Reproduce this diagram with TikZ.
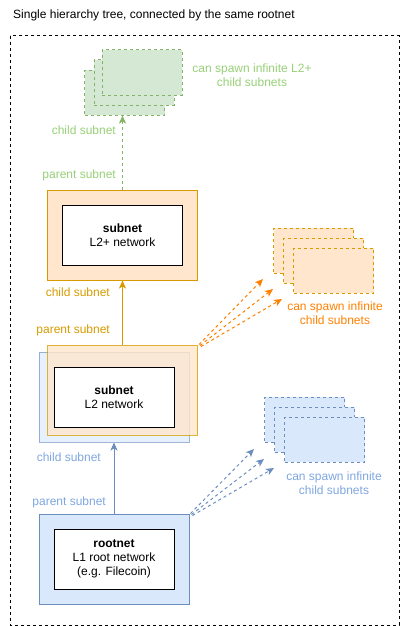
\documentclass[tikz,border=0pt]{standalone}
\usepackage{fontspec}
\setmainfont{Liberation Sans}
\usetikzlibrary{arrows.meta,positioning}
\definecolor{grnfill}{HTML}{D5E8D4}
\definecolor{grnline}{HTML}{82B366}
\definecolor{grntext}{HTML}{97D077}
\definecolor{orgfill}{HTML}{FFE6CC}
\definecolor{orgline}{HTML}{D79B00}
\definecolor{orgtext}{HTML}{FF8000}
\definecolor{blufill}{HTML}{DAE8FC}
\definecolor{bluline}{HTML}{6C8EBF}
\definecolor{blutext}{HTML}{7EA6E0}
\tikzset{
	netbox/.style={draw, line width=1pt, minimum width=150pt, minimum height=90pt, inner sep=0pt},
	corebox/.style={draw=black, fill=white, line width=1pt, minimum width=120pt, minimum height=60pt, inner sep=0pt, align=center, font=\fontsize{12}{14}\selectfont},
	ghostbox/.style={draw, line width=1pt, dash pattern=on 3pt off 3pt, minimum width=80pt, minimum height=45pt, inner sep=0pt},
	lbl/.style={inner sep=0pt, align=center, font=\fontsize{12}{14}\selectfont},
	linkarrow/.style={line width=1pt, -{Stealth[length=8pt,width=7pt,inset=2pt]}},
	spawnarrow/.style={linkarrow, dash pattern=on 3pt off 3pt}
}

\begin{document}
\begin{tikzpicture}[x=1pt,y=-1pt]
			%%%%% START %%%%%
			\useasboundingbox (0,0) rectangle (401,626);
			
			\node[lbl, anchor=west] (title) at (13,15) {Single hierarchy tree, connected by the same rootnet};
			\draw[line width=1pt, dash pattern=on 3pt off 3pt] (10,36) rectangle (399,625);
			
			% green: L2+ children
			\node[ghostbox, draw=grnline, fill=grnfill] (g1) at (124.5,92.5) {};
			\node[ghostbox, draw=grnline, fill=grnfill] (g2) at (134,82.5) {};
			\node[ghostbox, draw=grnline, fill=grnfill] (g3) at (142,72.5) {};
			\node[lbl, text=grntext] (gspawn) at (252,75) {can spawn infinite L2+\\child subnets};
			
			% orange: L2+ subnet
			\node[netbox, draw=orgline, fill=orgfill] (l2plus) at (122.5,235) {};
			\node[corebox] (l2pluscore) at (l2plus) {\textbf{subnet}\\L2+ network};
			
			\draw[spawnarrow, grnline] (l2plus.north) -- (l2plus.north |- g1.south);
			\node[lbl, text=grntext, anchor=east] (gchild) at (116,130) {child subnet};
			\node[lbl, text=grntext, anchor=east] (gparent) at (116,175) {parent subnet};
			
			\node[ghostbox, draw=orgline, fill=orgfill] (o1) at (313.5,250.5) {};
			\node[ghostbox, draw=orgline, fill=orgfill] (o2) at (323.5,260.5) {};
			\node[ghostbox, draw=orgline, fill=orgfill] (o3) at (333.5,270.5) {};
			\node[lbl, text=orgtext] (ospawn) at (335,313) {can spawn infinite\\child subnets};
			
			% L2 subnet, blue and orange at once
			\node[netbox, draw=bluline, fill=blufill, opacity=0.65] (l2blue) at (114,397) {};
			\node[netbox, draw=orgline, fill=orgfill, fill opacity=0.8, draw opacity=0.75] (l2) at (122.5,390) {};
			\node[corebox] (l2core) at (114,397) {\textbf{subnet}\\L2 network};
			
			\draw[linkarrow, orgline] (l2.north) -- (l2plus.south);
			\node[lbl, text=orgline, anchor=east] (ochild) at (110,292) {child subnet};
			\node[lbl, text=orgline, anchor=east] (oparent) at (110,330) {parent subnet};
			
			\coordinate (otip1) at (263,279);
			\coordinate (otip2) at (273,289);
			\coordinate (otip3) at (282,299);
			\draw[spawnarrow, orgtext] ([xshift=1pt]l2.north east) -- (otip1);
			\draw[spawnarrow, orgtext] ([xshift=2pt,yshift=-1pt]l2.north east) -- (otip2);
			\draw[spawnarrow, orgtext] ([xshift=3pt,yshift=-2pt]l2.north east) -- (otip3);
			
			\node[ghostbox, draw=bluline, fill=blufill] (b1) at (304.5,419.5) {};
			\node[ghostbox, draw=bluline, fill=blufill] (b2) at (314.5,429.5) {};
			\node[ghostbox, draw=bluline, fill=blufill] (b3) at (324.5,439.5) {};
			\node[lbl, text=blutext] (bspawn) at (334,483) {can spawn infinite\\child subnets};
			
			% blue: rootnet
			\node[netbox, draw=bluline, fill=blufill] (root) at (114,559) {};
			\node[corebox] (rootcore) at (root) {\textbf{rootnet}\\L1 root network\\(e.g. Filecoin)};
			
			\draw[linkarrow, bluline] (root.north) -- (l2blue.south);
			\node[lbl, text=blutext, anchor=east] (bchild) at (101,457) {child subnet};
			\node[lbl, text=blutext, anchor=east] (bparent) at (106,502) {parent subnet};
			
			\coordinate (btip1) at (254,449);
			\coordinate (btip2) at (264,459);
			\coordinate (btip3) at (274,468);
			\draw[spawnarrow, bluline] ([xshift=1pt]root.north east) -- (btip1);
			\draw[spawnarrow, bluline] ([xshift=2pt,yshift=-1pt]root.north east) -- (btip2);
			\draw[spawnarrow, bluline] ([xshift=3pt,yshift=-2pt]root.north east) -- (btip3);
			
			%%%%% END %%%%%
\end{tikzpicture}
\end{document}
